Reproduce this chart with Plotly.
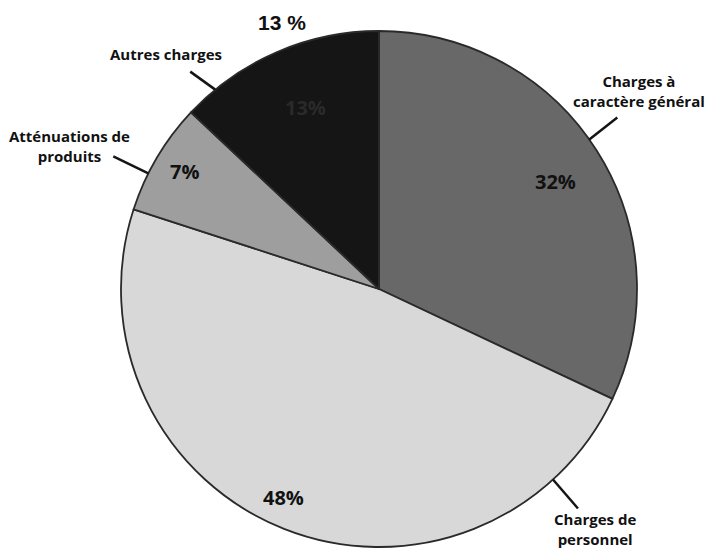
import math
import plotly.graph_objects as go

# ---- data ----
categories = ["Charges à caractère général", "Charges de personnel",
              "Atténuations de produits", "Autres charges"]
label_text = ["Charges à<br>caractère général", "Charges de<br>personnel",
              "Atténuations de<br>produits", "Autres charges"]
values = [32, 48, 7, 13]
pct_labels = ["32%", "48%", "7%", "13%"]
top_note = "13 %"

# ---- style ----
OFF = 8  # page body margin: figure sits 8px in from the window corner
W, H = 719 - OFF, 551 - OFF
CX, CY, R = 379 - OFF, 289 - OFF, 258
colors = ["#686868", "#d8d8d8", "#9e9e9e", "#151515"]
pct_colors = ["#111111", "#111111", "#111111", "#2a2a2a"]
pct_radius = [0.80, 0.89, 0.88, 0.76]
pct_angle_shift = [1.0, 3.0, 0.5, 1.5]
# leader line: angle offset from slice middle (deg), tail offset (px), text offset from tail (px)
lead_shift = [-3, -64, -4, -16]
tail = [(28, -22), (25, 29), (-35, -17), (-25, -18)]
text_off = [(22, -27), (17, 20), (-44, -10), (-24, -18)]
FONT = "Open Sans"


def px_to_paper(px, py):
    return px / W, 1 - py / H


def polar(angle_deg, rfrac):
    a = math.radians(angle_deg)
    return CX + R * rfrac * math.sin(a), CY - R * rfrac * math.cos(a)


total = sum(values)
mids = []
acc = 0
for v in values:
    mids.append((acc + v / 2) / total * 360)
    acc += v

fig = go.Figure(go.Pie(
    labels=categories, values=values, sort=False, direction="clockwise",
    rotation=0, marker=dict(colors=colors, line=dict(color="#2a2a2a", width=1.8)),
    textinfo="none", hoverinfo="label+percent", showlegend=False,
    domain=dict(x=[(CX - R) / W, (CX + R) / W], y=[1 - (CY + R) / H, 1 - (CY - R) / H]),
))

annotations = []
shapes = []
for i, m in enumerate(mids):
    px, py = polar(m + pct_angle_shift[i], pct_radius[i])
    x, y = px_to_paper(px, py)
    annotations.append(dict(x=x, y=y, xref="paper", yref="paper", text=f"<b>{pct_labels[i]}</b>",
                            xanchor="center", yanchor="middle", showarrow=False,
                            font=dict(family=FONT, size=20, color=pct_colors[i])))
    ex, ey = polar(m + lead_shift[i], 1.0)
    tx, ty = ex + tail[i][0], ey + tail[i][1]
    x0, y0 = px_to_paper(ex, ey)
    x1, y1 = px_to_paper(tx, ty)
    shapes.append(dict(type="line", xref="paper", yref="paper", x0=x0, y0=y0, x1=x1, y1=y1,
                       line=dict(color="#151515", width=2.5)))
    lx, ly = px_to_paper(tx + text_off[i][0], ty + text_off[i][1])
    annotations.append(dict(x=lx, y=ly, xref="paper", yref="paper", text=f"<b>{label_text[i]}</b>",
                            xanchor="center", yanchor="middle", showarrow=False, align="center",
                            font=dict(family=FONT, size=15, color="#111111")))

nx, ny = px_to_paper(282 - OFF, 22 - OFF)
annotations.append(dict(x=nx, y=ny, xref="paper", yref="paper", text=f"<b>{top_note}</b>",
                        xanchor="center", yanchor="middle", showarrow=False,
                        font=dict(family="Liberation Sans", size=21, color="#111111")))

fig.update_layout(width=W, height=H, margin=dict(l=0, r=0, t=0, b=0),
                  paper_bgcolor="white", plot_bgcolor="white",
                  annotations=annotations, shapes=shapes)
fig.write_html("out.html")
